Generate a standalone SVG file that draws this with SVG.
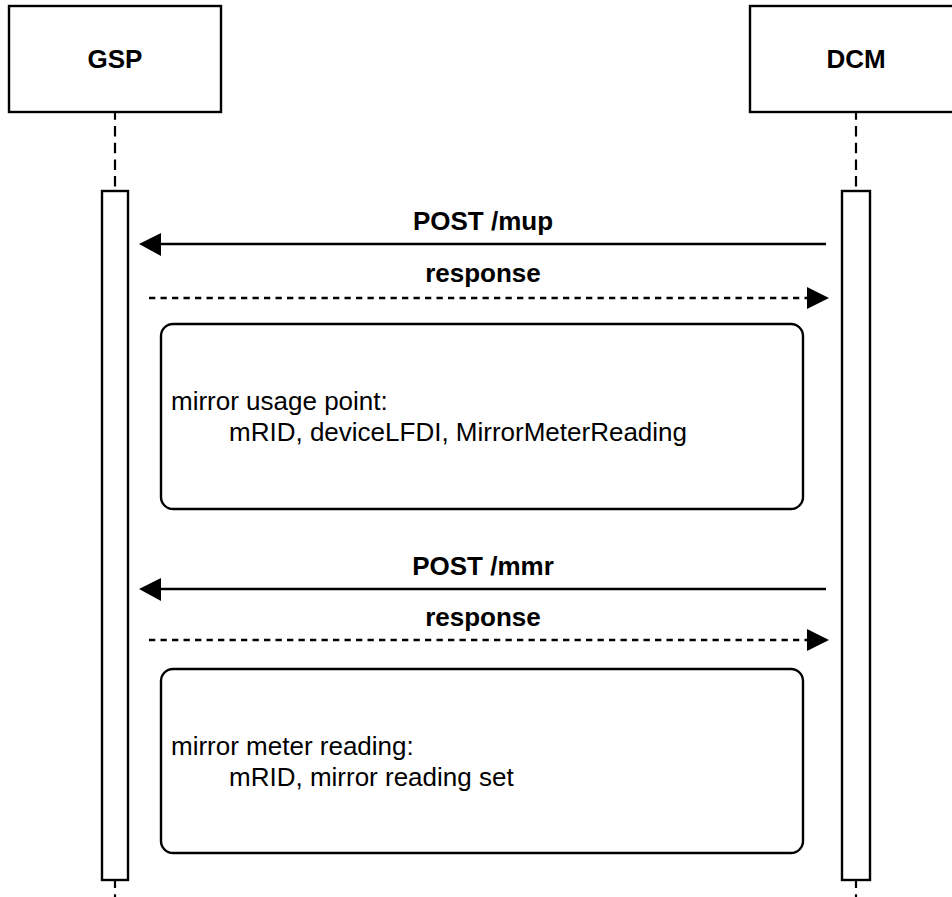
<svg xmlns="http://www.w3.org/2000/svg" width="952" height="897" viewBox="0 0 952 897">
  <style>
    .actor { fill: #ffffff; stroke: #000000; stroke-width: 2.4; }
    .lifeline { fill: none; stroke: #000000; stroke-width: 2.2; stroke-dasharray: 10.5 6.2; stroke-dashoffset: 2.7; }
    .activation { fill: #ffffff; stroke: #000000; stroke-width: 2.4; }
    .note { fill: #ffffff; stroke: #000000; stroke-width: 2.4; }
    .msg { fill: none; stroke: #000000; stroke-width: 2.4; }
    .reply { fill: none; stroke: #000000; stroke-width: 2.4; stroke-dasharray: 6.3 5.2; }
    .head { fill: #000000; stroke: none; }
    .title { font-family: "Liberation Sans", Arial, sans-serif; font-size: 26px; font-weight: bold; fill: #000000; text-anchor: middle; }
    .label { font-family: "Liberation Sans", Arial, sans-serif; font-size: 26px; font-weight: bold; fill: #000000; text-anchor: middle; }
    .body { font-family: "Liberation Sans", Arial, sans-serif; font-size: 26px; fill: #000000; }
  </style>

  <rect width="952" height="897" fill="#ffffff"/>

  <!-- lifelines -->
  <g id="lifelines">
    <line class="lifeline" x1="115" y1="112" x2="115" y2="897"/>
    <line class="lifeline" x1="856" y1="112" x2="856" y2="897"/>
  </g>

  <!-- participant GSP -->
  <g id="gsp">
    <rect class="actor" x="9" y="6" width="212" height="106"/>
    <text class="title" x="115" y="68">GSP</text>
    <rect class="activation" x="102" y="191" width="26" height="689"/>
  </g>

  <!-- participant DCM -->
  <g id="dcm">
    <rect class="actor" x="750" y="6" width="212" height="106"/>
    <text class="title" x="856" y="68">DCM</text>
    <rect class="activation" x="842" y="191" width="28" height="689"/>
  </g>

  <!-- messages -->
  <g id="connectors">
    <g id="post-mup">
      <line class="msg" x1="826" y1="244" x2="158" y2="244"/>
      <polygon class="head" points="139,244 161,233 161,256"/>
      <text class="label" x="483" y="230">POST /mup</text>
    </g>
    <g id="response-mup">
      <line class="reply" x1="149" y1="298" x2="810" y2="298"/>
      <polygon class="head" points="829,298 807,287 807,309"/>
      <text class="label" x="483" y="282">response</text>
    </g>
    <g id="post-mmr">
      <line class="msg" x1="826" y1="589" x2="158" y2="589"/>
      <polygon class="head" points="139,589 161,578 161,601"/>
      <text class="label" x="483" y="575">POST /mmr</text>
    </g>
    <g id="response-mmr">
      <line class="reply" x1="149" y1="640" x2="810" y2="640"/>
      <polygon class="head" points="829,640 807,629 807,651"/>
      <text class="label" x="483" y="626">response</text>
    </g>
  </g>

  <!-- notes -->
  <g id="note-mup">
    <rect class="note" x="161" y="324" width="642" height="185" rx="12" ry="12"/>
    <text class="body" x="171" y="410">mirror usage point:</text>
    <text class="body" x="229" y="441">mRID, deviceLFDI, MirrorMeterReading</text>
  </g>
  <g id="note-mmr">
    <rect class="note" x="161" y="669" width="642" height="184" rx="12" ry="12"/>
    <text class="body" x="171" y="755">mirror meter reading:</text>
    <text class="body" x="229" y="786">mRID, mirror reading set</text>
  </g>
</svg>
